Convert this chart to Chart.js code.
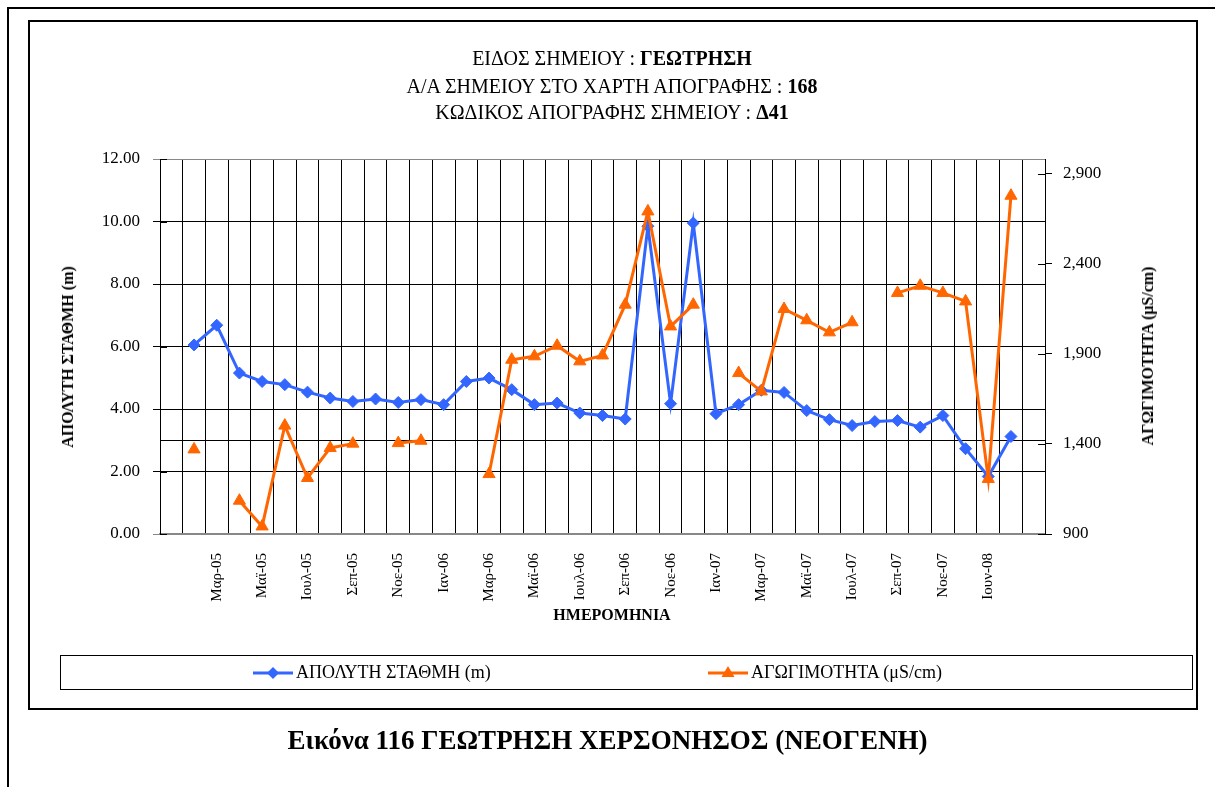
<!DOCTYPE html>
<html>
<head>
<meta charset="utf-8">
<script src="https://cdn.jsdelivr.net/npm/chart.js@4/dist/chart.umd.min.js"></script>
<style>
body { margin: 0; background: #fff; font-family: "Liberation Serif", serif; color: #000; }
#page { position: relative; width: 1215px; height: 787px; overflow: hidden; }
#outer { position: absolute; left: 7px; top: 7px; width: 1230px; height: 800px; border-left: 2px solid #000; border-top: 2px solid #000; }
#frame { position: absolute; left: 28px; top: 20px; width: 1166px; height: 686px; border: 2px solid #000; }
#chart { position: absolute; left: 0; top: 0; }
.title { position: absolute; left: 28px; width: 1168px; text-align: center; font-size: 20px; line-height: 24px; }
.axt { position: absolute; font-weight: bold; font-size: 16px; white-space: nowrap; }
#legend { position: absolute; left: 60px; top: 655px; width: 1131px; height: 33px; border: 1.5px solid #000; font-size: 18px; }
.item { position: absolute; top: 5px; white-space: nowrap; line-height: 22px; }
.item svg { vertical-align: -3px; margin-right: 2px; }
#caption { position: absolute; left: 0; width: 1215px; top: 724px; text-align: center; font-weight: bold; font-size: 27px; line-height: 32px; }
</style>
</head>
<body>
<div id="page">
  <div id="outer"></div>
  <div id="frame"></div>
  <canvas id="chart" width="1215" height="787"></canvas>
  <div class="title" style="top:46px">ΕΙΔΟΣ ΣΗΜΕΙΟΥ : <b>ΓΕΩΤΡΗΣΗ</b></div>
  <div class="title" style="top:74px">Α/Α ΣΗΜΕΙΟΥ ΣΤΟ ΧΑΡΤΗ ΑΠΟΓΡΑΦΗΣ : <b>168</b></div>
  <div class="title" style="top:100px">ΚΩΔΙΚΟΣ ΑΠΟΓΡΑΦΗΣ ΣΗΜΕΙΟΥ : <b>Δ41</b></div>
  <div class="axt" style="left:68px; top:357px; transform:translate(-50%,-50%) rotate(-90deg);">ΑΠΟΛΥΤΗ ΣΤΑΘΜΗ (m)</div>
  <div class="axt" style="left:1148px; top:356px; transform:translate(-50%,-50%) rotate(-90deg);">ΑΓΩΓΙΜΟΤΗΤΑ (μS/cm)</div>
  <div class="axt" style="left:612px; top:615px; transform:translate(-50%,-50%);">ΗΜΕΡΟΜΗΝΙΑ</div>
  <div id="legend">
    <div class="item" style="left:191px">
      <svg width="42" height="16"><line x1="1" y1="8" x2="41" y2="8" stroke="#3366FF" stroke-width="3"/><polygon points="21,2 27,8 21,14 15,8" fill="#3366FF"/></svg>ΑΠΟΛΥΤΗ ΣΤΑΘΜΗ (m)</div>
    <div class="item" style="left:646px">
      <svg width="42" height="16"><line x1="1" y1="8" x2="41" y2="8" stroke="#FF6600" stroke-width="3"/><polygon points="21,1 27.5,12 14.5,12" fill="#FF6600"/></svg>ΑΓΩΓΙΜΟΤΗΤΑ (μS/cm)</div>
  </div>
  <div id="caption">Εικόνα 116 ΓΕΩΤΡΗΣΗ ΧΕΡΣΟΝΗΣΟΣ (ΝΕΟΓΕΝΗ)</div>
</div>
<script>
// Κατηγορίες (ημερομηνίες μετρήσεων) - εμφανίζεται κάθε δεύτερη
const dates = ["", "Φεβ-05", "Μαρ-05", "Απρ-05", "Μαϊ-05", "Ιουν-05", "Ιουλ-05", "Αυγ-05",
    "Σεπ-05", "Οκτ-05", "Νοε-05", "Δεκ-05", "Ιαν-06", "Φεβ-06", "Μαρ-06", "Απρ-06",
    "Μαϊ-06", "Ιουν-06", "Ιουλ-06", "Αυγ-06", "Σεπ-06", "Οκτ-06", "Νοε-06", "Δεκ-06",
    "Ιαν-07", "Φεβ-07", "Μαρ-07", "Απρ-07", "Μαϊ-07", "Ιουν-07", "Ιουλ-07", "Αυγ-07",
    "Σεπ-07", "Οκτ-07", "Νοε-07", "Δεκ-07", "Ιουν-08", "Ιουλ-08", ""];

// Απόλυτη στάθμη (m)
const stathmi = [null, 6.05, 6.68, 5.15, 4.88, 4.78, 4.54, 4.35, 4.24, 4.32, 4.21, 4.30,
    4.14, 4.88, 4.99, 4.62, 4.14, 4.19, 3.87, 3.79, 3.68, 9.85, 4.17, 9.95, 3.85, 4.14,
    4.60, 4.53, 3.95, 3.66, 3.47, 3.60, 3.63, 3.42, 3.79, 2.73, 1.84, 3.12, null];

// Αγωγιμότητα (μS/cm)
const agogimotita = [null, 1370, null, 1085, 942, 1502, 1211, 1378, 1402, null, 1405, 1418,
    null, null, 1233, 1868, 1887, 1946, 1859, 1892, 2174, 2692, 2053, 2174, null, 1794,
    1692, 2150, 2087, 2020, 2076, null, 2239, 2279, 2239, 2192, 1206, 2779, null];

const leftTicks = [0, 2, 4, 6, 8, 10, 12];
const rightTicks = [900, 1400, 1900, 2400, 2900];
const RIGHT_MAX = 2983;
const AXIS_CROSS = 3; // ο άξονας κατηγοριών τέμνει στο 3.00

const serif = "'Liberation Serif', serif";

// γραμμή του άξονα κατηγοριών και σημάδια που περνούν μέσα στην περιοχή
const extras = {
    id: "extras",
    beforeDatasetsDraw(chart) {
        const { ctx, chartArea, scales } = chart;
        const y = Math.round(scales.y.getPixelForValue(AXIS_CROSS)) + 0.5;
        ctx.save();
        ctx.strokeStyle = "#000";
        ctx.lineWidth = 1;
        ctx.beginPath();
        ctx.moveTo(chartArea.left, y);
        ctx.lineTo(chartArea.right, y);
        scales.y.ticks.forEach((t) => {
            const py = Math.round(scales.y.getPixelForValue(t.value)) + 0.5;
            ctx.moveTo(chartArea.left, py);
            ctx.lineTo(chartArea.left + 7, py);
        });
        scales.y1.ticks.forEach((t) => {
            const py = Math.round(scales.y1.getPixelForValue(t.value)) + 0.5;
            ctx.moveTo(chartArea.right - 7, py);
            ctx.lineTo(chartArea.right, py);
        });
        ctx.stroke();
        ctx.restore();
    }
};

new Chart(document.getElementById("chart").getContext("2d"), {
    type: "line",
    data: {
        labels: dates,
        datasets: [
            {
                label: "ΑΠΟΛΥΤΗ ΣΤΑΘΜΗ (m)",
                data: stathmi,
                yAxisID: "y",
                order: 1,
                borderColor: "#3366FF",
                backgroundColor: "#3366FF",
                borderWidth: 3,
                pointStyle: "rectRot",
                pointRadius: 6,
                pointBorderWidth: 1,
                tension: 0,
                spanGaps: false
            },
            {
                label: "ΑΓΩΓΙΜΟΤΗΤΑ (μS/cm)",
                data: agogimotita,
                yAxisID: "y1",
                order: 0,
                borderColor: "#FF6600",
                backgroundColor: "#FF6600",
                borderWidth: 3,
                pointStyle: "triangle",
                pointRadius: 7,
                pointBorderWidth: 1,
                tension: 0,
                spanGaps: false
            }
        ]
    },
    options: {
        responsive: false,
        animation: false,
        events: [],
        layout: { padding: { left: 40, right: 60, top: 159, bottom: 153 } },
        plugins: { legend: { display: false }, tooltip: { enabled: false } },
        scales: {
            x: {
                type: "category",
                offset: true,
                grid: { offset: true, color: "#000", drawTicks: false },
                border: { color: "#888", width: 2 },
                ticks: {
                    autoSkip: false,
                    minRotation: 90,
                    maxRotation: 90,
                    padding: 19,
                    color: "#000",
                    font: { family: serif, size: 15 },
                    callback: (v, i) => (i % 2 === 0 ? dates[i] : "")
                },
                afterFit: (s) => { s.height = 100; }
            },
            y: {
                position: "left",
                min: 0,
                max: 12,
                afterBuildTicks: (s) => { s.ticks = leftTicks.map((v) => ({ value: v })); },
                grid: {
                    color: (c) => (c.tick && (c.tick.value === 12 || c.tick.value === 0) ? "#888" : "#000"),
                    tickLength: 7
                },
                border: { color: "#000", width: 1 },
                ticks: {
                    padding: 13,
                    color: "#000",
                    font: { family: serif, size: 17 },
                    callback: (v) => Number(v).toFixed(2)
                },
                afterFit: (s) => { s.width = 120; }
            },
            y1: {
                position: "right",
                min: 900,
                max: RIGHT_MAX,
                afterBuildTicks: (s) => { s.ticks = rightTicks.map((v) => ({ value: v })); },
                grid: { drawOnChartArea: false, color: "#000", tickLength: 7 },
                border: { color: "#000", width: 1 },
                ticks: {
                    padding: 11,
                    color: "#000",
                    font: { family: serif, size: 17 },
                    callback: (v) => Number(v).toLocaleString("en-US")
                },
                afterFit: (s) => { s.width = 110; }
            }
        }
    },
    plugins: [extras]
});
</script>
</body>
</html>
